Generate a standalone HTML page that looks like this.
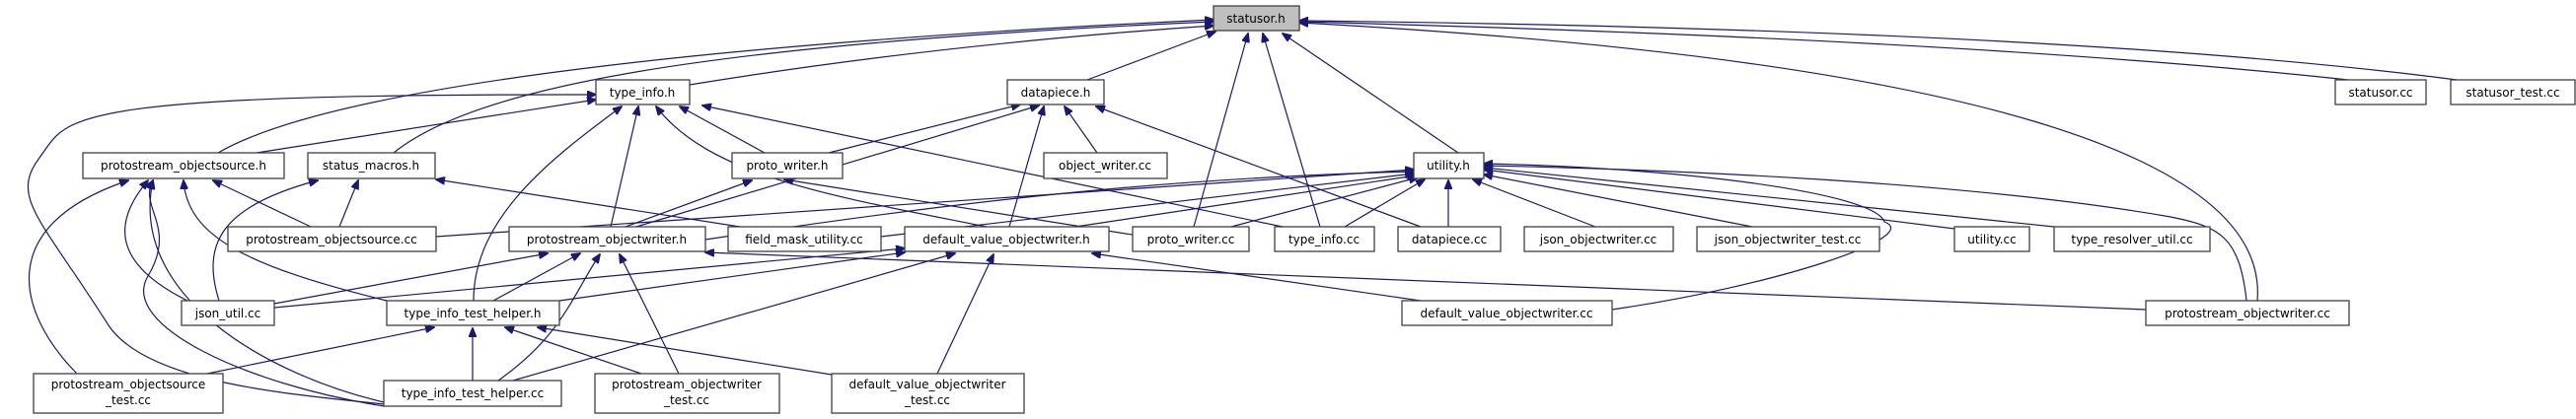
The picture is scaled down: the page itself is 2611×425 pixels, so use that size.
<!DOCTYPE html>
<html><head><meta charset="utf-8"><style>
html,body{margin:0;padding:0;background:#fff;}
svg{display:block}
text{font-family:"DejaVu Sans","Liberation Sans",sans-serif;font-size:12px;fill:#000;text-anchor:middle}
.n{fill:#fff;stroke:#404040;stroke-width:1.3}
.e{fill:none;stroke:#191970;stroke-width:1.2}
</style></head><body>
<svg width="2611" height="425" viewBox="0 0 2611 425" xmlns="http://www.w3.org/2000/svg">
<defs><marker id="a" markerWidth="10" markerHeight="8" refX="9" refY="4" orient="auto" markerUnits="userSpaceOnUse"><path d="M0,0 L10,4 L0,8 z" fill="#191970" stroke="#191970"/></marker></defs>
<g class="e" marker-end="url(#a)">
<!-- to statusor.h -->
<path d="M699,86 Q950,45 1230,26"/>
<path d="M221,155 C350,80 800,40 1230,20"/>
<path d="M399,155 C480,90 700,45 1230,22"/>
<path d="M1102,81 L1232,32"/>
<path d="M1478,155 L1300,34"/>
<path d="M1210,230 L1265,34"/>
<path d="M1338,230 L1280,34"/>
<path d="M2380,81 Q2000,40 1317,22"/>
<path d="M2490,81 Q2100,30 1317,21"/>
<path d="M2288,305 C2300,160 2000,60 1317,23"/>
<!-- to type_info.h -->
<path d="M260,155 L604,101"/>
<path d="M389,410 C300,400 150,390 110,330 C40,220 10,200 40,160 C70,120 50,95 604,96"/>
<path d="M480,305 C480,220 560,160 630,108"/>
<path d="M619,230 L647,108"/>
<path d="M775,155 L689,108"/>
<path d="M1000,230 C850,200 720,180 665,108"/>
<path d="M1300,230 L712,107"/>
<!-- to datapiece.h -->
<path d="M840,155 L1034,106"/>
<path d="M645,230 L1053,107"/>
<path d="M1023,230 L1058,108"/>
<path d="M1112,155 L1079,108"/>
<path d="M1440,230 L1111,108"/>
<!-- to utility.h -->
<path d="M442,240 L1433,172"/>
<path d="M893,240 L1433,176"/>
<path d="M1090,230 L1435,178"/>
<path d="M1248,230 L1437,180"/>
<path d="M1363,230 L1444,182"/>
<path d="M1468,230 L1468,183"/>
<path d="M1617,230 L1493,182"/>
<path d="M1776,230 L1504,177"/>
<path d="M1981,232 L1504,172"/>
<path d="M2082,230 L1504,170"/>
<path d="M2277,305 C2270,240 2250,230 2200,220 C2000,185 1700,172 1504,168"/>
<path d="M1634,314 C1800,290 1950,240 1910,225 C1900,195 1700,170 1504,166"/>
<path d="M715,243 C1000,200 1200,180 1433,174"/>
<!-- to protostream_objectsource.h -->
<path d="M78,379 C20,320 -10,230 130,183"/>
<path d="M389,412 C250,390 120,330 150,280 C180,230 140,210 155,183"/>
<path d="M389,408 C270,380 130,300 155,183"/>
<path d="M190,305 C120,270 110,230 150,183"/>
<path d="M392,305 C250,270 190,240 186,183"/>
<path d="M315,230 L216,183"/>
<!-- to status_macros.h -->
<path d="M222,305 C205,250 220,210 322,183"/>
<path d="M344,230 L363,183"/>
<path d="M750,230 L442,182"/>
<!-- to proto_writer.h -->
<path d="M634,230 L762,183"/>
<path d="M1160,240 L795,182"/>
<!-- to protostream_objectwriter.h -->
<path d="M278,308 L555,257"/>
<path d="M500,305 L588,257"/>
<path d="M505,386 C570,340 580,300 608,258"/>
<path d="M688,379 L628,258"/>
<path d="M2175,314 C1800,300 1300,280 715,256"/>
<!-- to default_value_objectwriter.h -->
<path d="M278,312 L917,252"/>
<path d="M567,305 L917,256"/>
<path d="M520,386 L968,257"/>
<path d="M950,379 L1007,258"/>
<path d="M1440,305 L1107,257"/>
<!-- to type_info_test_helper.h -->
<path d="M210,379 L440,332"/>
<path d="M479,386 L479,333"/>
<path d="M650,379 L512,332"/>
<path d="M843,380 L545,332"/>
</g>
<g>
<rect class="n" x="1230" y="6" width="87" height="25" style="fill:#bfbfbf"/><text x="1273" y="23">statusor.h</text>
<rect class="n" x="604" y="81" width="95" height="25"/><text x="651" y="98">type_info.h</text>
<rect class="n" x="1021" y="81" width="98" height="25"/><text x="1070" y="98">datapiece.h</text>
<rect class="n" x="2367" y="81" width="92" height="25"/><text x="2413" y="98">statusor.cc</text>
<rect class="n" x="2484" y="81" width="126" height="25"/><text x="2547" y="98">statusor_test.cc</text>
<rect class="n" x="84" y="155" width="204" height="26"/><text x="186" y="172">protostream_objectsource.h</text>
<rect class="n" x="312" y="155" width="129" height="26"/><text x="376" y="172">status_macros.h</text>
<rect class="n" x="742" y="155" width="112" height="26"/><text x="798" y="172">proto_writer.h</text>
<rect class="n" x="1058" y="155" width="125" height="26"/><text x="1120" y="172">object_writer.cc</text>
<rect class="n" x="1433" y="155" width="71" height="26"/><text x="1468" y="172">utility.h</text>
<rect class="n" x="231" y="230" width="211" height="25"/><text x="336" y="247">protostream_objectsource.cc</text>
<rect class="n" x="516" y="230" width="199" height="25"/><text x="615" y="247">protostream_objectwriter.h</text>
<rect class="n" x="738" y="230" width="155" height="25"/><text x="815" y="247">field_mask_utility.cc</text>
<rect class="n" x="917" y="230" width="207" height="25"/><text x="1020" y="247">default_value_objectwriter.h</text>
<rect class="n" x="1148" y="230" width="118" height="25"/><text x="1207" y="247">proto_writer.cc</text>
<rect class="n" x="1292" y="230" width="101" height="25"/><text x="1342" y="247">type_info.cc</text>
<rect class="n" x="1417" y="230" width="104" height="25"/><text x="1469" y="247">datapiece.cc</text>
<rect class="n" x="1545" y="230" width="151" height="25"/><text x="1620" y="247">json_objectwriter.cc</text>
<rect class="n" x="1720" y="230" width="185" height="25"/><text x="1812" y="247">json_objectwriter_test.cc</text>
<rect class="n" x="1981" y="230" width="76" height="25"/><text x="2019" y="247">utility.cc</text>
<rect class="n" x="2082" y="230" width="158" height="25"/><text x="2161" y="247">type_resolver_util.cc</text>
<rect class="n" x="184" y="305" width="94" height="25"/><text x="231" y="322">json_util.cc</text>
<rect class="n" x="392" y="305" width="175" height="25"/><text x="479" y="322">type_info_test_helper.h</text>
<rect class="n" x="1421" y="305" width="213" height="25"/><text x="1527" y="322">default_value_objectwriter.cc</text>
<rect class="n" x="2175" y="305" width="206" height="25"/><text x="2278" y="322">protostream_objectwriter.cc</text>
<rect class="n" x="34" y="379" width="192" height="40"/><text x="130" y="394">protostream_objectsource</text><text x="130" y="410">_test.cc</text>
<rect class="n" x="389" y="386" width="180" height="26"/><text x="479" y="403">type_info_test_helper.cc</text>
<rect class="n" x="603" y="379" width="187" height="40"/><text x="696" y="394">protostream_objectwriter</text><text x="696" y="410">_test.cc</text>
<rect class="n" x="843" y="379" width="195" height="40"/><text x="940" y="394">default_value_objectwriter</text><text x="940" y="410">_test.cc</text>
</g>
</svg>
</body></html>
